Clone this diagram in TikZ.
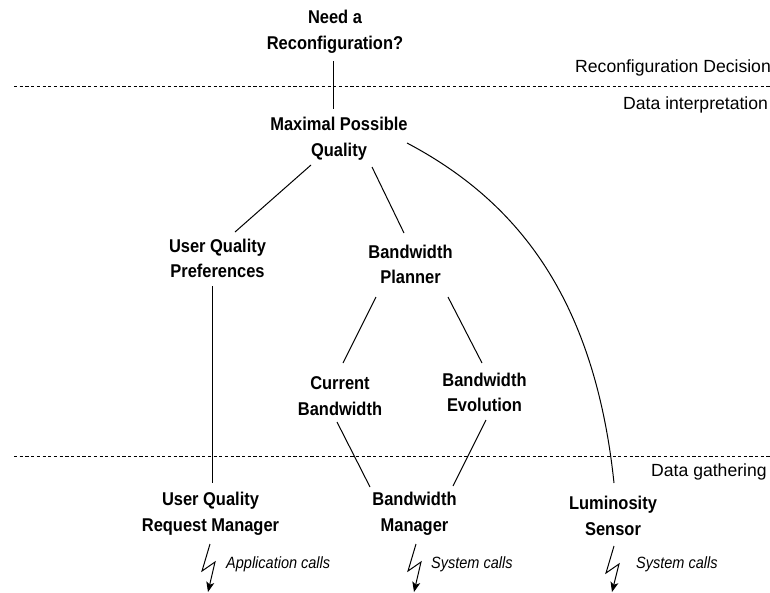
\documentclass[tikz,border=0pt]{standalone}
\usepackage{fontspec}
\setmainfont{Liberation Sans}
\newfontfamily\narrowsans[FakeStretch=0.89]{Liberation Sans}
\usetikzlibrary{arrows.meta}
\tikzset{
  x=1pt,y=-1pt,
  concept/.style={align=center,font=\narrowsans\fontsize{18.5}{25.7}\selectfont\bfseries,inner sep=0pt},
  layer/.style={anchor=base west,inner sep=0pt,font=\fontsize{17.6}{20}\selectfont},
  callnote/.style={anchor=base west,inner sep=0pt,font=\narrowsans\fontsize{16.3}{20}\selectfont\itshape},
  link/.style={draw=black,line width=1pt},
  sep/.style={draw=black,line width=0.8pt,dash pattern=on 3.2pt off 2.5pt},
  bolt/.style={draw=black,line width=1pt,-{Stealth[length=10pt,width=8pt,inset=2.5pt]}},
}
\begin{document}
\begin{tikzpicture}
\useasboundingbox (0,0) rectangle (770,592);
\clip (0,0) rectangle (770,592);
\node[concept] (need) at (335,31.5) {Need a\\Reconfiguration?};
\node[concept] (max) at (339,139) {Maximal Possible\\Quality};
\node[concept] (pref) at (217.5,258.5) {User Quality\\Preferences};
\node[concept] (plan) at (410.5,264.5) {Bandwidth\\Planner};
\node[concept] (cur) at (340,396) {Current\\Bandwidth};
\node[concept] (evo) at (484.5,392.5) {Bandwidth\\Evolution};
\node[concept] (req) at (210.5,513.5) {User Quality\\Request Manager};
\node[concept] (mgr) at (414.5,514) {Bandwidth\\Manager};
\node[concept] (lum) at (613,516) {Luminosity\\Sensor};
\coordinate (leftA) at (14,86);
\coordinate (rightA) at (770,86);
\coordinate (leftB) at (14,456);
\coordinate (rightB) at (770,456);
\draw[sep] (leftA) -- (rightA);
\draw[sep] (leftB) -- (rightB);
\node[layer] (l1) at (575,72) {Reconfiguration Decision};
\node[layer] (l2) at (623,109) {Data interpretation};
\node[layer] (l3) at (651,476) {Data gathering};
\draw[link] ([shift={(-2,29.5)}]need.center) -- ([shift={(-6,-30)}]max.center);
\draw[link] ([shift={(-28,26)}]max.center) -- ([shift={(17.5,-26.5)}]pref.center);
\draw[link] ([shift={(33,28)}]max.center) -- ([shift={(-6.5,-31.5)}]plan.center);
\draw[link] ([shift={(68,4)}]max.center) .. controls (513,199) and (594,293) .. ([shift={(1,-33)}]lum.center);
\draw[link] ([shift={(-5.5,27.5)}]pref.center) -- ([shift={(1.5,-30.5)}]req.center);
\draw[link] ([shift={(-34.5,32.5)}]plan.center) -- ([shift={(3,-33)}]cur.center);
\draw[link] ([shift={(37.5,32.5)}]plan.center) -- ([shift={(-2.5,-29.5)}]evo.center);
\draw[link] ([shift={(-3,26)}]cur.center) -- ([shift={(-44.5,-27)}]mgr.center);
\draw[link] ([shift={(1.5,27.5)}]evo.center) -- ([shift={(38.5,-28)}]mgr.center);
\node[callnote] (c1) at (226,568) {Application calls};
\node[callnote] (c2) at (431,568) {System calls};
\node[callnote] (c3) at (636,568) {System calls};
\coordinate (b1) at (210,544);
\coordinate (b2) at (416,544);
\coordinate (b3) at (614,546);
\draw[bolt] (b1) -- ++(-8,27) -- ++(13,-9) -- ++(-7,30);
\draw[bolt] (b2) -- ++(-8,27) -- ++(13,-9) -- ++(-7,30);
\draw[bolt] (b3) -- ++(-8,27) -- ++(13,-9) -- ++(-7,28);
\end{tikzpicture}
\end{document}
